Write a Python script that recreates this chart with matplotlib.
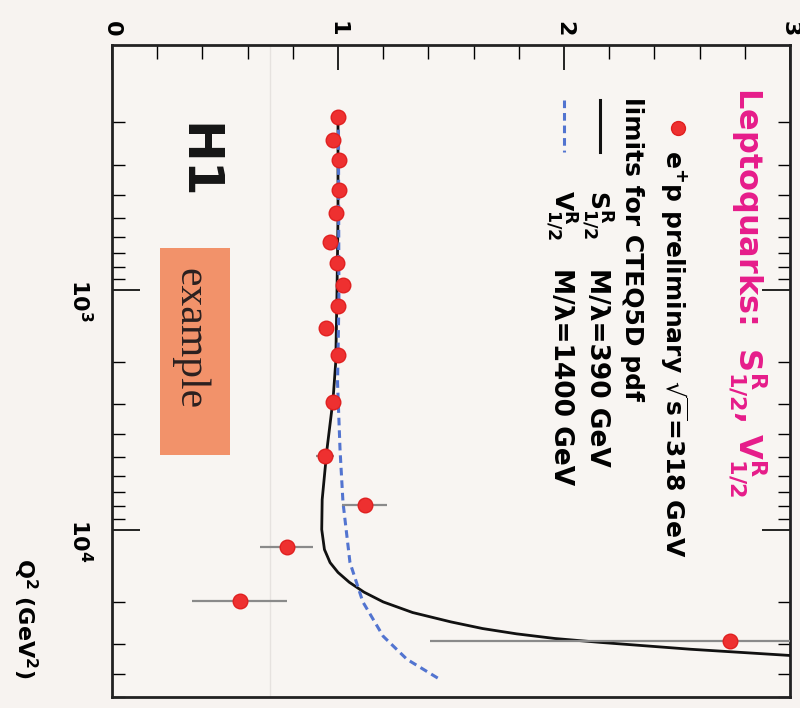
import matplotlib
matplotlib.use("Agg")
import matplotlib.pyplot as plt
from matplotlib.lines import Line2D
from matplotlib.patches import Rectangle
from matplotlib.ticker import FixedLocator, NullFormatter, LogLocator

plt.rcParams["font.family"] = ["DejaVu Sans"]
plt.rcParams["mathtext.fontset"] = "dejavusans"

# H1 e+p preliminary, data / SM
Q2_DATA = [190, 237, 287, 383, 478, 631, 772, 953, 1166, 1440, 1865,
           2929, 4914, 7870, 11885, 19953, 29290]
RATIO_DATA = [1.00, 0.978, 1.004, 1.004, 0.991, 0.965, 0.996, 1.022, 1.00,
              0.947, 1.00, 0.978, 0.942, 1.119, 0.774, 0.566, 2.735]
RATIO_ERR = [0.01, 0.01, 0.012, 0.012, 0.014, 0.015, 0.017, 0.02, 0.02,
             0.022, 0.025, 0.03, 0.04, 0.10, 0.117, 0.21, 1.33]

# S^R_1/2, M/lambda = 390 GeV
S_Q2 = [190, 500, 1101, 2000, 2873, 4642, 7499, 10000, 12115, 13740,
        15100, 16600, 18250, 20050, 22200, 24300, 25900, 27250, 28500,
        29580, 31600, 33500, 36000]
S_RATIO = [1.0, 1.0, 0.995, 0.99, 0.978, 0.951, 0.93, 0.928, 0.94, 0.965,
           1.0, 1.05, 1.115, 1.2, 1.33, 1.5, 1.64, 1.79, 1.96,
           2.16, 2.56, 2.99, 3.4]

# V^R_1/2, M/lambda = 1400 GeV
V_Q2 = [190, 1101, 2441, 4642, 7686, 13740, 20050, 27895, 34800, 42170]
V_RATIO = [1.002, 1.004, 0.998, 1.009, 1.022, 1.053, 1.11, 1.2, 1.305, 1.45]

W, H = 800, 708
BG = "#f7f3f0"
PINK = "#e61c8a"
RED = "#ee3030"
BLUE = "#5274d0"


def fx(px):
    return px / W


def fy(py):
    return 1 - py / H


fig = plt.figure(figsize=(8, 7.08), dpi=100, facecolor=BG)
ax = fig.add_axes([fx(112), fy(697), fx(790) - fx(112), fy(45) - fy(697)])
ax.set_facecolor("#f8f5f2")

ax.plot(S_RATIO, S_Q2, "-", color="#111111", lw=2.0, zorder=3)
ax.plot(V_RATIO, V_Q2, color=BLUE, lw=2.2, dashes=(2.5, 1.6), zorder=3)
ax.errorbar(RATIO_DATA, Q2_DATA, xerr=RATIO_ERR, fmt="o", ms=10.5, color=RED,
            mec="#e02020", ecolor="#8a8a8a", elinewidth=1.6, capsize=0, zorder=4)
ax.axvline(0.70, color="#e6e2df", lw=1.0, zorder=1)

ax.set_xlim(0, 3)
ax.set_yscale("log")
ax.set_ylim(50000, 95)

ax.xaxis.tick_top()
ax.set_xticks([0, 1, 2, 3])
ax.set_xticks([i * 0.2 for i in range(16)], minor=True)
ax.set_xticklabels(["0", "1", "2", "3"], rotation=-90, fontsize=16,
                   fontweight="bold")
ax.tick_params(axis="x", which="major", direction="in", length=18, width=1.2,
               pad=6, top=True, bottom=False)
ax.tick_params(axis="x", which="minor", direction="in", length=10, width=1.0,
               top=True, bottom=False)

ax.yaxis.set_major_locator(FixedLocator([1e3, 1e4]))
ax.yaxis.set_minor_locator(LogLocator(base=10, subs=range(2, 10)))
ax.yaxis.set_minor_formatter(NullFormatter())
ax.set_yticklabels([r"$\mathbf{10^{3}}$", r"$\mathbf{10^{4}}$"], rotation=-90,
                   fontsize=16)
ax.tick_params(axis="y", which="major", direction="in", length=20, width=1.2,
               pad=14, left=True, right=True)
ax.tick_params(axis="y", which="minor", direction="in", length=9, width=1.0,
               left=True, right=True)
for s in ax.spines.values():
    s.set_linewidth(2.0)
    s.set_color("#222222")

fig.text(fx(25), fy(558), r"$\mathbf{Q^{2}\ (GeV^{2})}$", rotation=-90,
         ha="center", va="top", fontsize=16)

# title and legend (rotated)
fig.text(fx(748), fy(87), r"Leptoquarks:  $\mathbf{S^{R}_{1/2}}$, $\mathbf{V^{R}_{1/2}}$",
         rotation=-90, ha="center", va="top", fontsize=23, fontweight="bold",
         color=PINK)
fig.add_artist(Line2D([fx(678)], [fy(128)], marker="o", ms=10, color=RED,
                      mec="#e02020", transform=fig.transFigure))
fig.text(fx(674), fy(150), r"$\mathbf{e^{+}p}$ preliminary $\sqrt{\mathbf{s}}$=318 GeV",
         rotation=-90, ha="center", va="top", fontsize=18, fontweight="bold")
fig.text(fx(632), fy(97), "limits for CTEQ5D pdf", rotation=-90, ha="center",
         va="top", fontsize=18, fontweight="bold")
fig.add_artist(Line2D([fx(600), fx(600)], [fy(100), fy(152)], color="#111111",
                      lw=2.2, transform=fig.transFigure))
fig.text(fx(597), fy(190), r"$\mathbf{S^{R}_{1/2}}$", rotation=-90, ha="center",
         va="top", fontsize=18)
fig.text(fx(597), fy(268), "M/λ=390 GeV", rotation=-90, ha="center",
         va="top", fontsize=19, fontweight="bold")
fig.add_artist(Line2D([fx(564), fx(564)], [fy(100), fy(152)], color=BLUE,
                      lw=2.2, dashes=(2.5, 1.6), transform=fig.transFigure))
fig.text(fx(561), fy(190), r"$\mathbf{V^{R}_{1/2}}$", rotation=-90, ha="center",
         va="top", fontsize=18)
fig.text(fx(561), fy(268), "M/λ=1400 GeV", rotation=-90, ha="center",
         va="top", fontsize=19, fontweight="bold")

fig.text(fx(197), fy(123), "H1", rotation=-90, ha="center", va="top",
         fontsize=36, fontweight="bold", color="#151515")
fig.add_artist(Rectangle((fx(160), fy(455)), fx(230) - fx(160), fy(248) - fy(455),
                         transform=fig.transFigure, facecolor="#f2926a",
                         edgecolor="none", zorder=2))
fig.text(fx(190), fy(268), "example", rotation=-90, ha="center", va="top",
         fontsize=30, family=["Liberation Serif", "DejaVu Serif"], color="#2a2020",
         zorder=3)

fig.savefig("out.png", dpi=100, facecolor=BG)
